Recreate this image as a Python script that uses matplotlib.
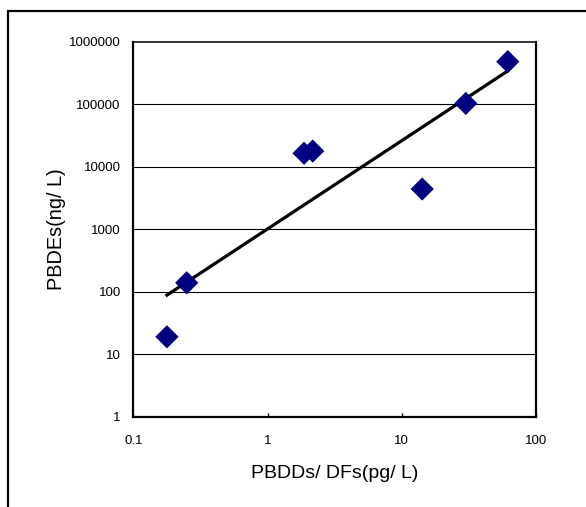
import numpy as np
import matplotlib
matplotlib.use("Agg")
import matplotlib.pyplot as plt
from matplotlib.patches import Rectangle

# PBDDs/DFs vs PBDEs concentrations
pbdd_df = [0.178, 0.25, 1.87, 2.17, 14.2, 30.0, 61.6]        # pg/L
pbde = [19, 139, 16400, 17800, 4400, 103000, 480000]          # ng/L

x_ticks = [0.1, 1, 10, 100]
x_tick_labels = ["0.1", "1", "10", "100"]
y_ticks = [1, 10, 100, 1000, 10000, 100000, 1000000]
y_tick_labels = ["1", "10", "100", "1000", "10000", "100000", "1000000"]

plt.rcParams["font.family"] = ["Liberation Sans", "DejaVu Sans"]

fig = plt.figure(figsize=(5.86, 5.07), dpi=100)
ax = fig.add_axes([0.2275, 0.1781, 0.6872, 0.7396])

# outer chart frame (left and top edges visible)
fig.patches.append(Rectangle((8 / 586, -0.05), 1.2, 1 - 11 / 507 + 0.05,
                             transform=fig.transFigure, fill=False,
                             edgecolor="black", linewidth=1.6, zorder=0))

ax.set_xscale("log")
ax.set_yscale("log")
ax.set_xlim(0.1, 100)
ax.set_ylim(1, 1000000)

# power-law trendline: least-squares fit in log-log space
lx = np.log10(pbdd_df)
ly = np.log10(pbde)
b, a = np.polyfit(lx, ly, 1)
xf = np.logspace(lx.min(), lx.max(), 50)
ax.plot(xf, 10 ** a * xf ** b, color="black", linewidth=2.3, zorder=3)

ax.scatter(pbdd_df, pbde, marker="D", s=140, color="#000080",
           edgecolors="none", zorder=4)

ax.set_xticks(x_ticks)
ax.set_xticklabels(x_tick_labels)
ax.set_yticks(y_ticks)
ax.set_yticklabels(y_tick_labels)
ax.minorticks_off()
ax.tick_params(axis="x", direction="in", length=3, width=1, pad=13,
               labelsize=9.5)
ax.tick_params(axis="y", length=0, pad=9, labelsize=9.5)

for yv in y_ticks[1:-1]:
    ax.axhline(yv, color="black", linewidth=0.8, zorder=1)

for side in ["left", "bottom", "right"]:
    ax.spines[side].set_linewidth(1.6)
ax.spines["top"].set_linewidth(1.1)

ax.set_xlabel("PBDDs/ DFs(pg/ L)", fontsize=14, labelpad=13)
ax.set_ylabel("PBDEs(ng/ L)", fontsize=14.3, labelpad=2)

fig.savefig("out.png", dpi=100)
